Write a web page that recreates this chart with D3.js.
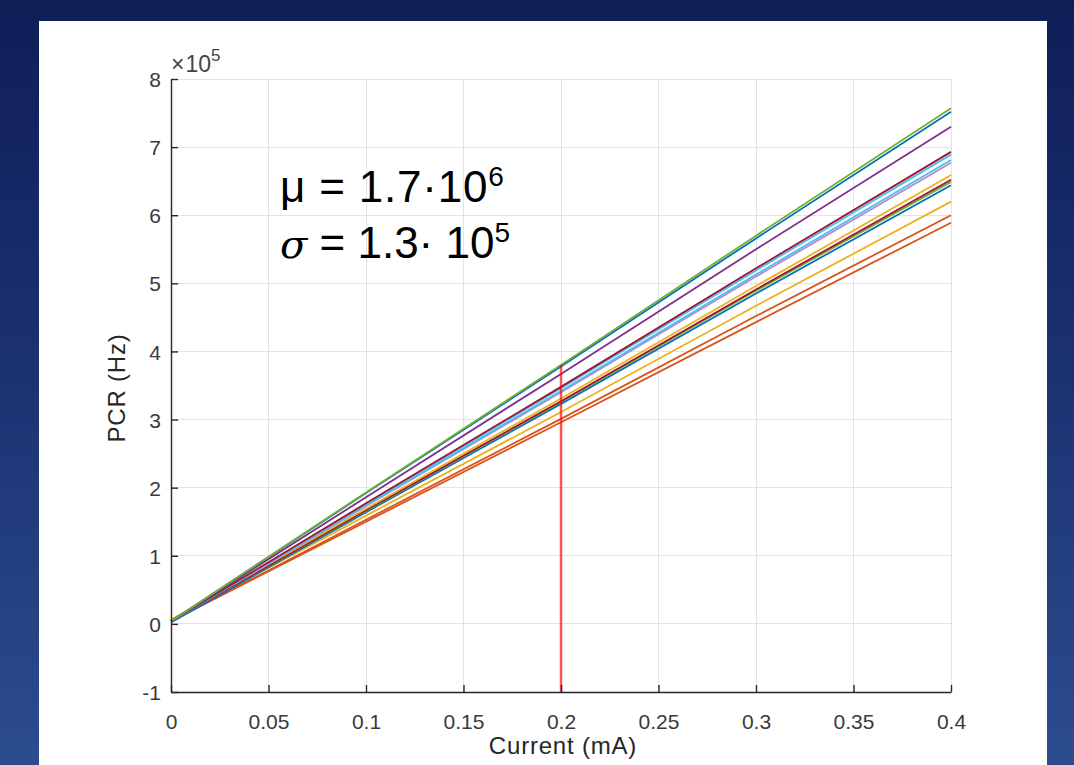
<!DOCTYPE html>
<html><head><meta charset="utf-8">
<script src="https://cdn.jsdelivr.net/npm/d3@7"></script>
<style>
html,body{margin:0;padding:0;}
body{width:1074px;height:765px;overflow:hidden;background:linear-gradient(180deg,#0f1e57 0%,#1a3070 45%,#2c4d8e 100%);}
</style></head>
<body>
<svg id="c" width="1074" height="765"></svg>
<script>
// x positions (mA)
const currents = [0, 0.1, 0.2, 0.3, 0.4];
// PCR values in units of 1e5 Hz for each curve
const s1  = [0.04, 1.93, 3.80, 5.70, 7.57];
const s2  = [0.04, 1.92, 3.78, 5.66, 7.52];
const s3  = [0.04, 1.86, 3.67, 5.50, 7.30];
const s4  = [0.04, 1.77, 3.48, 5.22, 6.93];
const s5  = [0.04, 1.76, 3.46, 5.19, 6.89];
const s6  = [0.04, 1.74, 3.42, 5.13, 6.81];
const s7  = [0.04, 1.73, 3.40, 5.10, 6.77];
const s8  = [0.06, 1.69, 3.31, 4.96, 6.59];
const s9  = [0.04, 1.67, 3.27, 4.91, 6.52];
const s10 = [0.04, 1.66, 3.26, 4.89, 6.49];
const s11 = [0.02, 1.64, 3.23, 4.85, 6.44];
const s12 = [0.06, 1.59, 3.11, 4.67, 6.20];
const s13 = [0.04, 1.53, 3.01, 4.52, 6.00];
const s14 = [0.04, 1.50, 2.96, 4.43, 5.89];
const seriesList = [s14, s13, s12, s11, s10, s9, s8, s7, s6, s5, s4, s3, s2, s1];
const seriesColors = ["#D95319","#D95319","#EDB120","#0072BD","#77AC30","#A2142F","#EDB120",
                      "#B48ACB","#4DBEEE","#4DBEEE","#A2142F","#7E2F8E","#0072BD","#77AC30"];
const xTicks = [0, 0.05, 0.1, 0.15, 0.2, 0.25, 0.3, 0.35, 0.4];
const xTickLabels = ["0","0.05","0.1","0.15","0.2","0.25","0.3","0.35","0.4"];
const yTicks = [-1, 0, 1, 2, 3, 4, 5, 6, 7, 8];
const yTickLabels = ["-1","0","1","2","3","4","5","6","7","8"];
const markerX = 0.2;
const markerRange = [-1, 3.80];

const svg = d3.select("#c");
// white panel
svg.append("rect").attr("x",39).attr("y",21).attr("width",1008).attr("height",760).attr("fill","#ffffff");

const x = d3.scaleLinear().domain([0,0.4]).range([171,951]);
const y = d3.scaleLinear().domain([-1,8]).range([692,79]);

const g = svg.append("g");
// grid
g.selectAll(".vg").data(xTicks.slice(1)).enter().append("line")
  .attr("x1",d=>x(d)).attr("x2",d=>x(d)).attr("y1",y(-1)).attr("y2",y(8))
  .attr("stroke","#e3e3e3").attr("stroke-width",1).attr("shape-rendering","crispEdges");
g.selectAll(".hg").data(yTicks.slice(1)).enter().append("line")
  .attr("x1",x(0)).attr("x2",x(0.4)).attr("y1",d=>y(d)).attr("y2",d=>y(d))
  .attr("stroke","#e3e3e3").attr("stroke-width",1).attr("shape-rendering","crispEdges");

// lines
const line = d3.line().x((d,i)=>x(currents[i])).y(d=>y(d));
seriesList.forEach((s,i)=>{
  g.append("path").datum(s).attr("d",line).attr("fill","none")
   .attr("stroke",seriesColors[i]).attr("stroke-width",1.8);
});

// red marker line
g.append("line").attr("x1",x(markerX)).attr("x2",x(markerX))
  .attr("y1",y(markerRange[0])).attr("y2",y(markerRange[1]))
  .attr("stroke","#ff0000").attr("stroke-opacity",0.65).attr("stroke-width",2.5);

// axes
const fontFam = "'Liberation Sans', Arial, Helvetica, sans-serif";
const xAxis = d3.axisBottom(x).tickValues(xTicks).tickFormat((d,i)=>xTickLabels[i]).tickSizeInner(-7).tickSizeOuter(0).tickPadding(23);
const yAxis = d3.axisLeft(y).tickValues(yTicks).tickFormat((d,i)=>yTickLabels[i]).tickSizeInner(-7).tickSizeOuter(0).tickPadding(10);
const xa = svg.append("g").attr("transform",`translate(0,${y(-1)})`).call(xAxis);
const ya = svg.append("g").attr("transform",`translate(${x(0)},0)`).call(yAxis);
[xa,ya].forEach(a=>{
  a.attr("font-size",null);
  a.select(".domain").attr("stroke","#262626").attr("stroke-width",1.4);
  a.selectAll(".tick line").attr("stroke","#262626").attr("stroke-width",1.4);
  a.selectAll("text").attr("fill","#3a3a3a").style("font-family",fontFam).style("font-size","21px");
});
xa.selectAll("text").attr("dy","0.65em");
ya.selectAll("text").attr("dy","0.36em");

// exponent label
const ex = svg.append("text").attr("x",171).attr("y",72).attr("fill","#444")
  .style("font-family",fontFam).style("font-size","23px");
ex.append("tspan").text("\u00d7");
ex.append("tspan").attr("dx",1).text("10");
ex.append("tspan").attr("dy",-11).style("font-size","17px").text("5");

// axis titles
svg.append("text").attr("x",563).attr("y",754).attr("text-anchor","middle").attr("fill","#262626")
  .style("font-family",fontFam).style("font-size","24px").style("letter-spacing","0.8px").text("Current (mA)");
svg.append("text").attr("transform","translate(125,388) rotate(-90)").attr("text-anchor","middle").attr("fill","#262626")
  .style("font-family",fontFam).style("font-size","24px").style("letter-spacing","0.8px").text("PCR (Hz)");

// annotation
const annFam = "'Liberation Sans', Arial, sans-serif";
const a1 = svg.append("text").attr("x",280).attr("y",202).attr("fill","#000")
  .style("font-family",annFam).style("font-size","44px").style("letter-spacing","0.8px");
a1.append("tspan").text("\u03bc = 1.7\u00b710");
a1.append("tspan").attr("dy",-16).style("font-size","28px").text("6");
const a2 = svg.append("text").attr("x",280).attr("y",258).attr("fill","#000")
  .style("font-family",annFam).style("font-size","44px");
a2.append("tspan").style("font-style","italic").style("font-family","'DejaVu Serif', serif").style("font-size","40px").text("\u03c3");
a2.append("tspan").text(" = 1.3\u00b7 10");
a2.append("tspan").attr("dy",-16).style("font-size","28px").text("5");
</script>
</body></html>
